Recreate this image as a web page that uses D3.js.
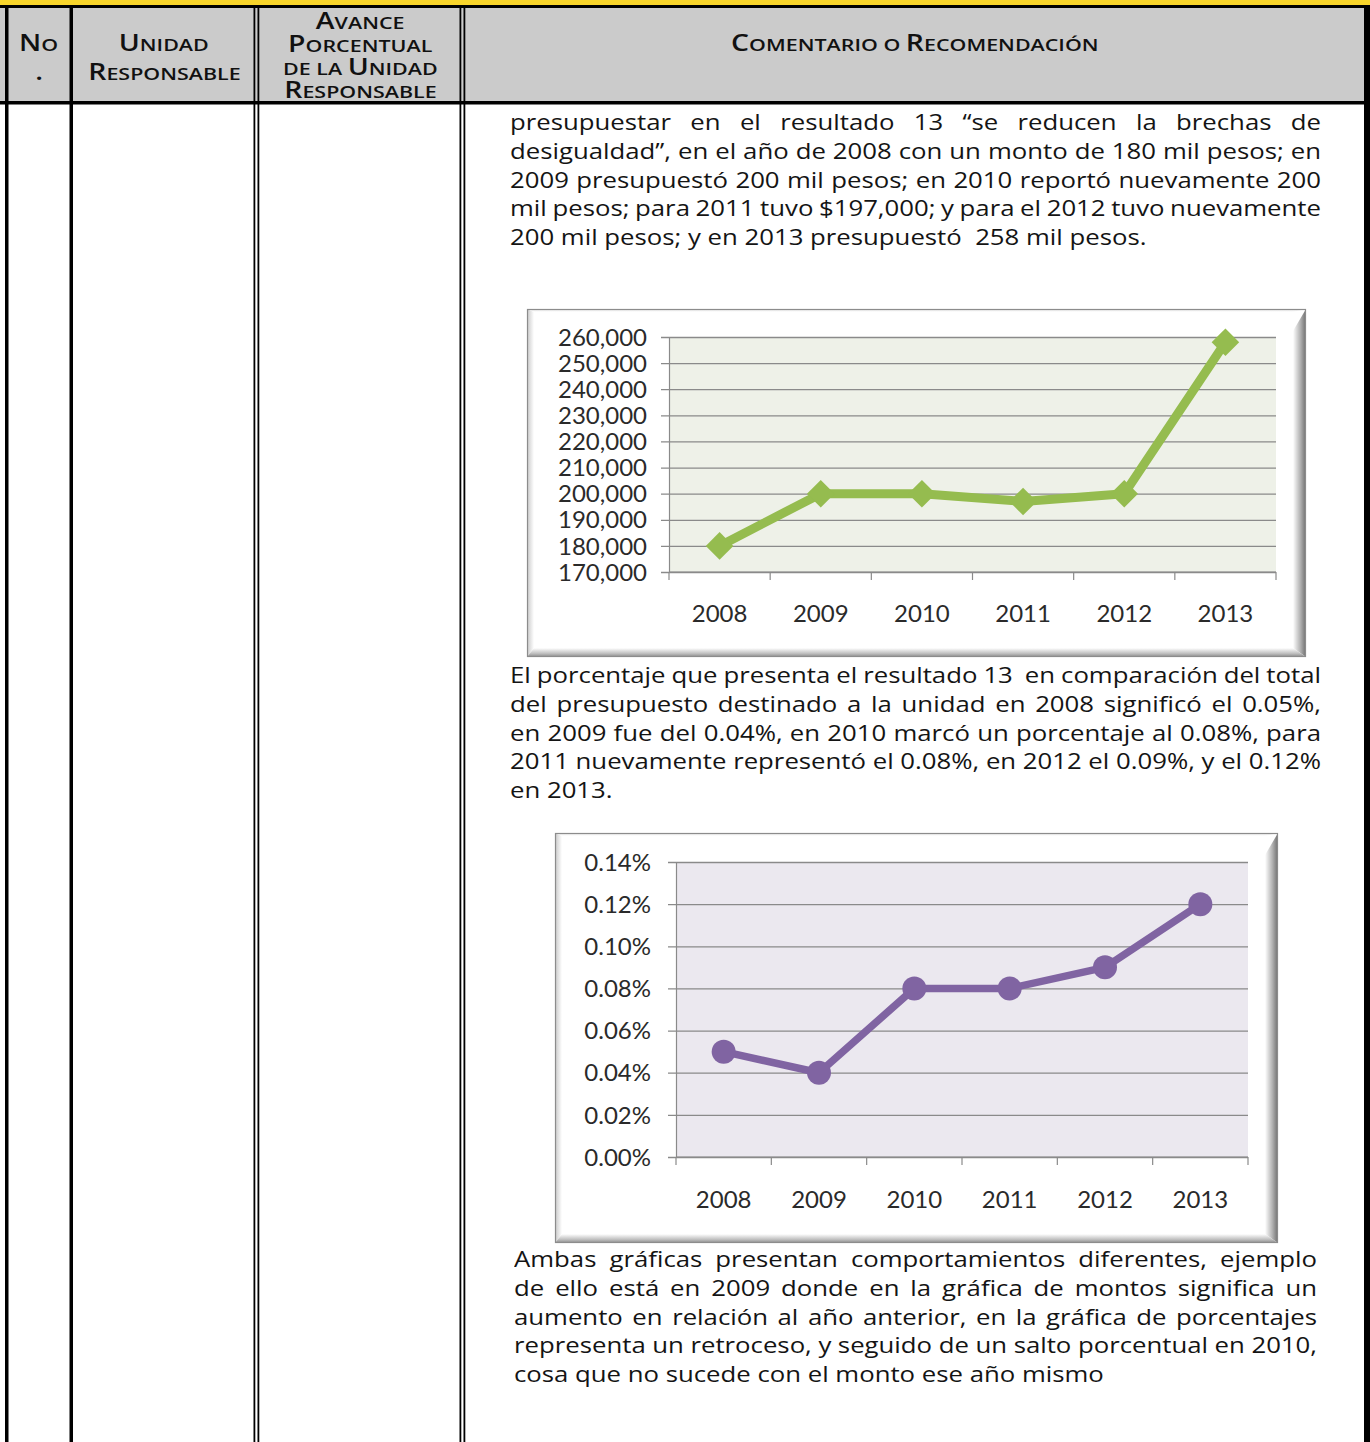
<!DOCTYPE html>
<html lang="es">
<head>
<meta charset="utf-8">
<script src="https://cdn.jsdelivr.net/npm/d3@7"></script>
<style>
  html, body { margin: 0; padding: 0; background: #fff; }
  body { width: 1370px; height: 1442px; position: relative; overflow: hidden; }
  svg { position: absolute; left: 0; top: 0; }
  .hdr { position: absolute; font-family: "Open Sans", sans-serif; font-weight: 600;
         color: #111; text-align: center; line-height: 23px; height: 23px; white-space: nowrap; }
  .hdr .inner { display: inline-block; transform: scaleX(1.26); transform-origin: 50% 50%;
                line-height: 18px; }
  .hdr .big, .hdr .sm { display: inline-block; line-height: 17px; }
  .hdr .big { font-size: 22.5px; }
  .hdr .sm { font-size: 17px; }
  .ln { position: absolute; font-family: "Open Sans", sans-serif; font-size: 22px;
        color: #141414; line-height: 28px; height: 28px; white-space: pre;
        transform-origin: 0 0; }
</style>
</head>
<body>
<script>
// ---- Data ----
const years = ["2008", "2009", "2010", "2011", "2012", "2013"];
const montos = [180000, 200000, 200000, 197000, 200000, 258000];
const montoTicks = [170000, 180000, 190000, 200000, 210000, 220000, 230000, 240000, 250000, 260000];
const porcentajes = [0.0005, 0.0004, 0.0008, 0.0008, 0.0009, 0.0012];
const porcentajeTicks = [0, 0.0002, 0.0004, 0.0006, 0.0008, 0.0010, 0.0012, 0.0014];

const headerCols = [
  { lines: ["No", "."], cx: 39, y: 42, step: 29 },
  { lines: ["Unidad", "Responsable"], cx: 164, y: 42, step: 29 },
  { lines: ["Avance", "Porcentual", "de la Unidad", "Responsable"], cx: 360, y: 20, step: 23.3 },
  { lines: ["Comentario o Recomendación"], cx: 915, y: 42, step: 29 }
];

const parrafo1 = [
  "presupuestar en el resultado 13 “se reducen la brechas de",
  "desigualdad”, en el año de 2008 con un monto de 180 mil pesos; en",
  "2009 presupuestó 200 mil pesos; en 2010 reportó nuevamente 200",
  "mil pesos; para 2011 tuvo $197,000; y para el 2012 tuvo nuevamente",
  "200 mil pesos; y en 2013 presupuestó  258 mil pesos."
];
const parrafo2 = [
  "El porcentaje que presenta el resultado 13  en comparación del total",
  "del presupuesto destinado a la unidad en 2008 significó el 0.05%,",
  "en 2009 fue del 0.04%, en 2010 marcó un porcentaje al 0.08%, para",
  "2011 nuevamente representó el 0.08%, en 2012 el 0.09%, y el 0.12%",
  "en 2013."
];
const parrafo3 = [
  "Ambas gráficas presentan comportamientos diferentes, ejemplo",
  "de ello está en 2009 donde en la gráfica de montos significa un",
  "aumento en relación al año anterior, en la gráfica de porcentajes",
  "representa un retroceso, y seguido de un salto porcentual en 2010,",
  "cosa que no sucede con el monto ese año mismo"
];

// ---- Table frame ----
const W = 1370, H = 1442;
const body = d3.select("body");
const svg = body.append("svg").attr("width", W).attr("height", H);
const defs = svg.append("defs");

svg.append("rect").attr("x", 0).attr("y", 0).attr("width", W).attr("height", 5).attr("fill", "#f8d52b");
svg.append("rect").attr("x", 0).attr("y", 5).attr("width", W).attr("height", 3).attr("fill", "#000");
svg.append("rect").attr("x", 0).attr("y", 8).attr("width", W).attr("height", 93).attr("fill", "#cbcbcb");
svg.append("rect").attr("x", 0).attr("y", 101).attr("width", W).attr("height", 3.5).attr("fill", "#000");

// column rules: single thick and double thin
const rules = [
  { x: 5, w: 3.5 }, { x: 69.5, w: 3.5 },
  { x: 253.5, w: 1.8 }, { x: 257.5, w: 1.8 },
  { x: 459.5, w: 1.8 }, { x: 463.5, w: 1.8 },
  { x: 1364, w: 6 }
];
svg.selectAll("rect.rule").data(rules).join("rect").attr("class", "rule")
  .attr("x", d => d.x).attr("y", 5).attr("width", d => d.w).attr("height", H - 5).attr("fill", "#000");

// header labels in small caps: capitals large, lower-case letters as small capitals
headerCols.forEach(c => {
  c.lines.forEach((t, i) => {
    const inner = body.append("div").attr("class", "hdr")
      .style("left", (c.cx - 200) + "px").style("width", "400px")
      .style("top", (c.y - 8.5 + i * c.step) + "px")
      .append("span").attr("class", "inner");
    inner.selectAll("span").data(Array.from(t)).join("span")
      .attr("class", ch => (ch !== ch.toLowerCase() || ch === ".") ? "big" : "sm")
      .text(ch => ch === " " ? "\u00a0" : ch.toUpperCase());
  });
});

// ---- Paragraphs, one line each; full lines are justified by word spacing ----
const stretch = 1.17;
function parrafo(lines, x, w, yc) {
  lines.forEach((t, i) => {
    const div = body.append("div").attr("class", "ln")
      .style("left", x + "px")
      .style("top", (yc - 14 + i * 28.75) + "px")
      .style("transform", `scaleX(${stretch})`);
    const span = div.append("span").text(t);
    if (i < lines.length - 1) {
      const natural = span.node().getBoundingClientRect().width / stretch;
      const gaps = (t.match(/ /g) || []).length;
      const extra = (w / stretch - natural) / gaps;
      span.style("word-spacing", extra + "px");
    }
  });
}
parrafo(parrafo1, 510, 811, 121);
parrafo(parrafo2, 510, 811, 674);
parrafo(parrafo3, 514, 803, 1258);

// ---- Chart frame with bevel ----
function gradient(id, x1, y1, x2, y2, stops) {
  const g = defs.append("linearGradient").attr("id", id)
    .attr("x1", x1).attr("y1", y1).attr("x2", x2).attr("y2", y2);
  stops.forEach(s => g.append("stop").attr("offset", s[0]).attr("stop-color", s[1]));
}
gradient("bevL", 0, 0, 1, 0, [[0, "#c8c8c8"], [1, "#ffffff"]]);
gradient("bevR", 0, 0, 1, 0, [[0, "#ffffff"], [0.55, "#b4b4b4"], [1, "#6e6e6e"]]);
gradient("bevB", 0, 0, 0, 1, [[0, "#ffffff"], [0.6, "#c0c0c0"], [1, "#8a8a8a"]]);
gradient("bevT", 0, 0, 0, 1, [[0, "#e4e4e4"], [1, "#ffffff"]]);

function frame(x, y, w, h) {
  const g = svg.append("g");
  g.append("rect").attr("x", x).attr("y", y).attr("width", w).attr("height", h)
    .attr("fill", "#fff");
  g.append("polygon").attr("points", `${x},${y} ${x + 7},${y + 3} ${x + 7},${y + h - 9} ${x},${y + h}`)
    .attr("fill", "url(#bevL)");
  g.append("polygon").attr("points", `${x},${y} ${x + w},${y} ${x + w - 13},${y + 3} ${x + 7},${y + 3}`)
    .attr("fill", "url(#bevT)");
  g.append("polygon").attr("points", `${x + w},${y} ${x + w},${y + h} ${x + w - 13},${y + h - 9} ${x + w - 13},${y + 22}`)
    .attr("fill", "url(#bevR)");
  g.append("polygon").attr("points", `${x},${y + h} ${x + w},${y + h} ${x + w - 13},${y + h - 9} ${x + 7},${y + h - 9}`)
    .attr("fill", "url(#bevB)");
  g.append("rect").attr("x", x + 0.5).attr("y", y + 0.5).attr("width", w - 1).attr("height", h - 1)
    .attr("fill", "none").attr("stroke", "#8c8c8c").attr("stroke-width", 1.2);
}

// ---- Line chart builder ----
function lineChart(o) {
  frame(o.frame[0], o.frame[1], o.frame[2], o.frame[3]);
  const x = d3.scaleBand().domain(years).range([o.left, o.right]).padding(0);
  const y = d3.scaleLinear().domain(o.domain).range([o.bottom, o.top]);
  const g = svg.append("g");

  g.append("rect").attr("x", o.left).attr("y", o.top)
    .attr("width", o.right - o.left).attr("height", o.bottom - o.top).attr("fill", o.bg);

  // y axis with gridlines
  const ya = g.append("g").attr("transform", `translate(${o.left},0)`)
    .call(d3.axisLeft(y).tickValues(o.ticks).tickFormat(o.fmt)
      .tickSizeInner(-(o.right - o.left)).tickSizeOuter(0).tickPadding(0));
  ya.select(".domain").attr("stroke", "#8a8a8a").attr("stroke-width", 1.2);
  ya.selectAll(".tick line").attr("x1", -8).attr("stroke", "#8a8a8a").attr("stroke-width", 1.3);
  ya.selectAll(".tick text").attr("x", -o.labelGap).attr("dy", "0.34em")
    .attr("font-family", "Lato, sans-serif").attr("font-size", 24).attr("fill", "#2a2a2a");

  // x axis with ticks at category boundaries
  const xa = g.append("g").attr("transform", `translate(0,${o.bottom})`)
    .call(d3.axisBottom(x).tickSize(0).tickPadding(o.xLabelPad));
  xa.select(".domain").remove();
  g.append("line").attr("x1", o.left).attr("x2", o.right).attr("y1", o.bottom).attr("y2", o.bottom)
    .attr("stroke", "#8a8a8a").attr("stroke-width", 1.2);
  const bounds = years.map(d => x(d)).concat([o.right]);
  g.selectAll("line.xt").data(bounds).join("line").attr("class", "xt")
    .attr("x1", d => d).attr("x2", d => d).attr("y1", o.bottom).attr("y2", o.bottom + 8)
    .attr("stroke", "#8a8a8a").attr("stroke-width", 1.2);
  xa.selectAll(".tick text").attr("font-family", "Lato, sans-serif").attr("font-size", 24)
    .attr("fill", "#2a2a2a");

  // series
  const cx = d => x(d) + x.bandwidth() / 2;
  const line = d3.line().x((d, i) => cx(years[i])).y(d => y(d));
  g.append("path").datum(o.values).attr("d", line).attr("fill", "none")
    .attr("stroke", o.color).attr("stroke-width", o.lw).attr("stroke-linejoin", "round");
  g.selectAll("path.mk").data(o.values).join("path").attr("class", "mk")
    .attr("d", d3.symbol().type(o.symbol).size(o.symbolSize))
    .attr("transform", (d, i) => `translate(${cx(years[i])},${y(d)})${o.symbol === d3.symbolSquare ? " rotate(45)" : ""}`)
    .attr("fill", o.color);
}

lineChart({
  frame: [527, 309, 779, 348],
  left: 669, right: 1276, top: 337, bottom: 572,
  domain: [170000, 260000], ticks: montoTicks, fmt: d3.format(","),
  values: montos, color: "#95bc4f", lw: 9, bg: "#eef1e8", labelGap: 22,
  symbol: d3.symbolSquare, symbolSize: 380, xLabelPad: 33
});

lineChart({
  frame: [555, 833, 723, 410],
  left: 676, right: 1248, top: 862, bottom: 1157,
  domain: [0, 0.0014], ticks: porcentajeTicks, fmt: d3.format(".2%"),
  values: porcentajes, color: "#8064a2", lw: 7.5, bg: "#ebe8ef", labelGap: 25,
  symbol: d3.symbolCircle, symbolSize: Math.PI * 12 * 12, xLabelPad: 34
});
</script>
</body>
</html>
